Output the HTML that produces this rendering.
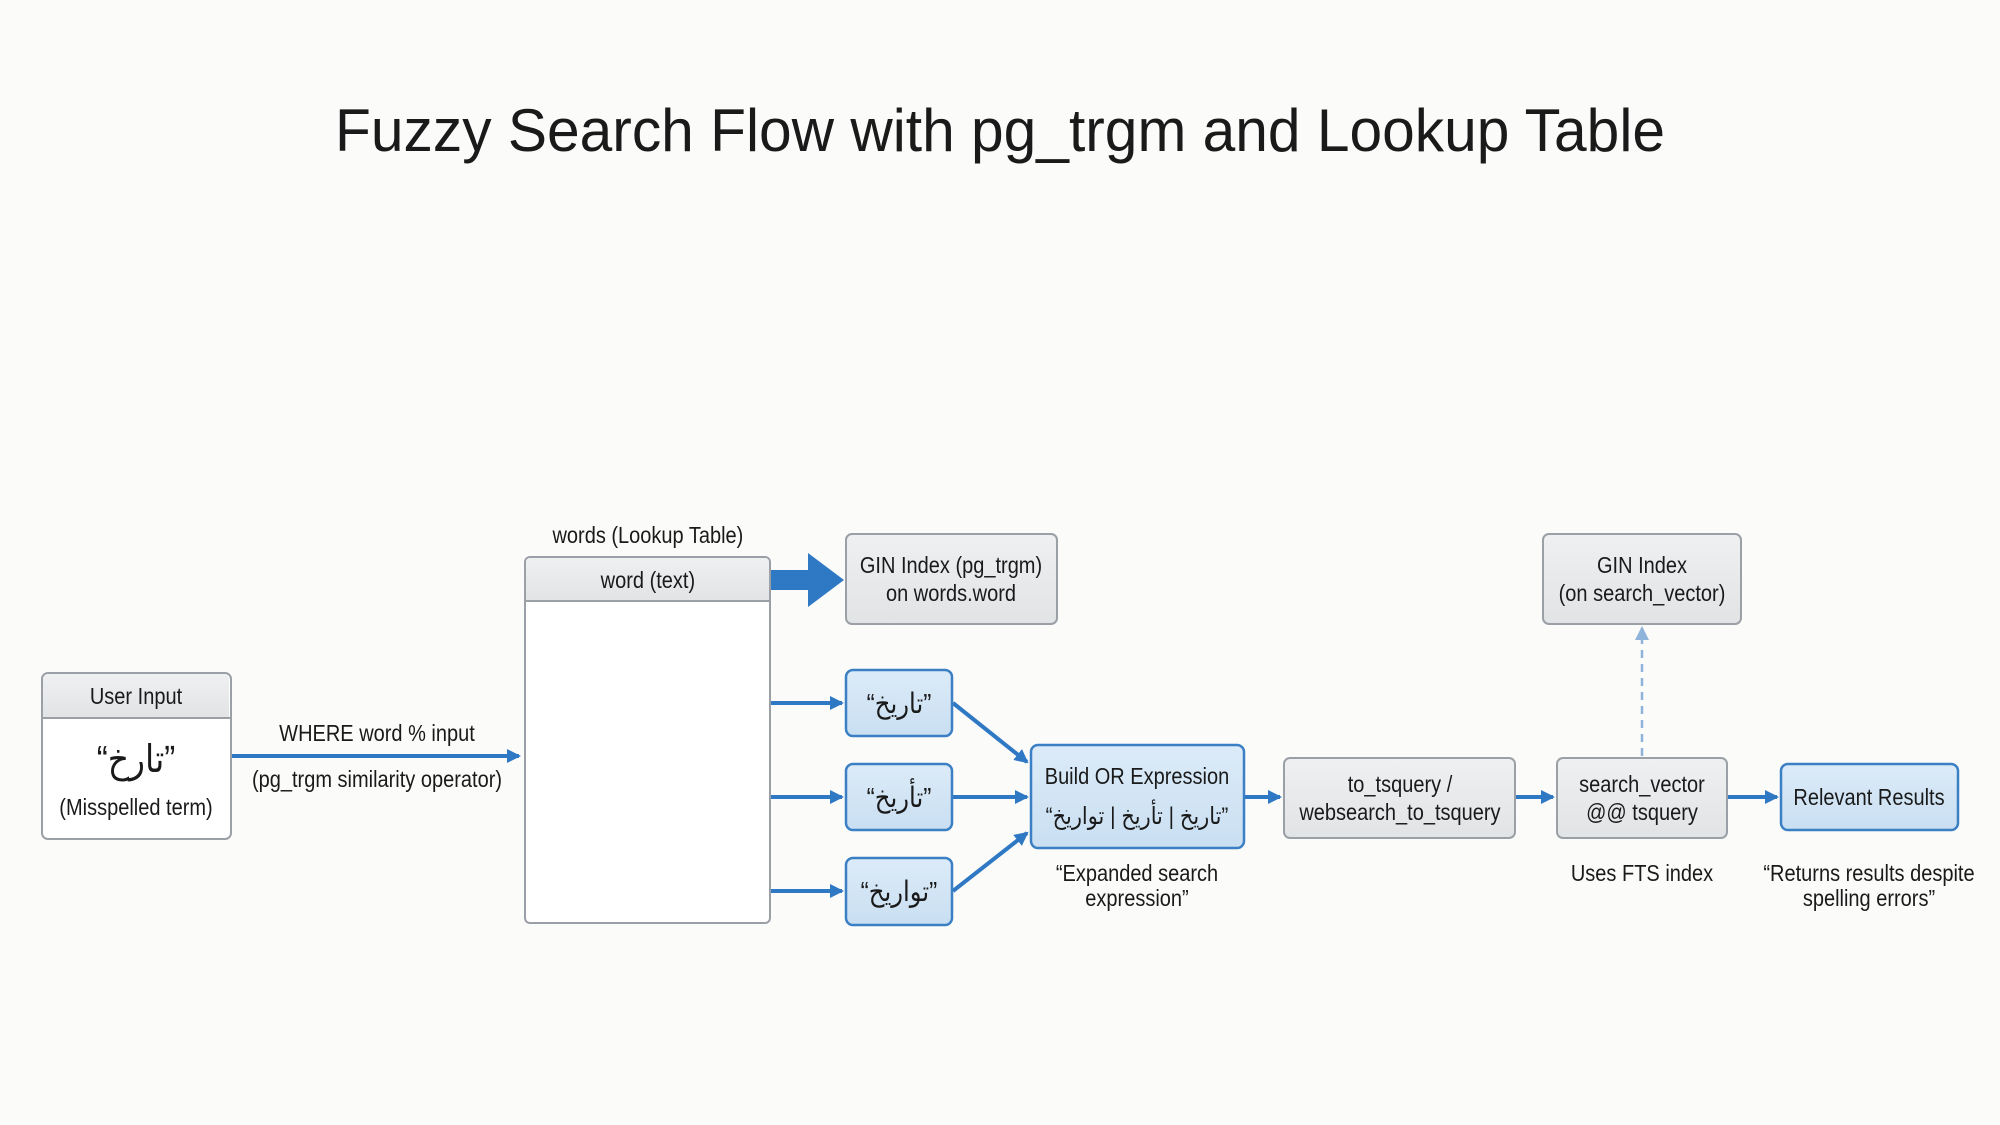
<!DOCTYPE html>
<html><head><meta charset="utf-8"><style>
html,body{margin:0;padding:0;background:#fbfbfa;}
svg{display:block;}
text{font-family:"Liberation Sans","DejaVu Sans",sans-serif;fill:#1a1a1a;}
g.lbl text{transform-box:fill-box;transform-origin:center;transform:scaleX(0.87);}
</style></head><body>
<svg width="2000" height="1125" viewBox="0 0 2000 1125" xmlns="http://www.w3.org/2000/svg">
<defs>
<linearGradient id="g" x1="0" y1="0" x2="0" y2="1"><stop offset="0" stop-color="#eff0f1"/><stop offset="1" stop-color="#e2e3e5"/></linearGradient>
<linearGradient id="b" x1="0" y1="0" x2="0" y2="1"><stop offset="0" stop-color="#dcebf8"/><stop offset="1" stop-color="#c9dff2"/></linearGradient>
<marker id="ah2" markerWidth="14" markerHeight="14" refX="12" refY="7" orient="auto" markerUnits="userSpaceOnUse"><path d="M0,0 L14,7 L0,14 z" fill="#2f78c4"/></marker>
<marker id="ahd" markerWidth="14" markerHeight="14" refX="12" refY="7" orient="auto" markerUnits="userSpaceOnUse"><path d="M0,0 L14,7 L0,14 z" fill="#8fb3da"/></marker>
</defs>
<rect width="2000" height="1125" fill="#fbfbfa"/>
<text x="1000" y="151" font-size="60" text-anchor="middle" textLength="1330" lengthAdjust="spacingAndGlyphs">Fuzzy Search Flow with pg_trgm and Lookup Table</text>

<g font-size="23" text-anchor="middle">
<rect x="42" y="673" width="189" height="166" rx="6" fill="#fff" stroke="#9aa0a6" stroke-width="2"/>
<path d="M43,718 V679 a5,5 0 0 1 5,-5 H224 a5,5 0 0 1 5,5 V718 z" fill="url(#g)"/>
<line x1="42" y1="718" x2="231" y2="718" stroke="#9aa0a6" stroke-width="2"/>
<line x1="232" y1="756" x2="519" y2="756" stroke="#2f78c4" stroke-width="4" marker-end="url(#ah2)"/>
<rect x="525" y="557" width="245" height="366" rx="5" fill="#fff" stroke="#9aa0a6" stroke-width="2"/>
<path d="M526,601 V562 a4,4 0 0 1 4,-4 H765 a4,4 0 0 1 4,4 V601 z" fill="url(#g)"/>
<line x1="525" y1="601" x2="770" y2="601" stroke="#9aa0a6" stroke-width="2"/>
<path d="M771,570 H808 V553 L844,580 L808,607 V590 H771 z" fill="#2f78c4"/>
<rect x="846" y="534" width="211" height="90" rx="6" fill="url(#g)" stroke="#9aa0a6" stroke-width="2"/>
<g stroke="#2f78c4" stroke-width="4">
<line x1="771" y1="703" x2="842" y2="703" marker-end="url(#ah2)"/>
<line x1="771" y1="797" x2="842" y2="797" marker-end="url(#ah2)"/>
<line x1="771" y1="891" x2="842" y2="891" marker-end="url(#ah2)"/>
<line x1="953" y1="703" x2="1027" y2="762" marker-end="url(#ah2)"/>
<line x1="953" y1="797" x2="1027" y2="797" marker-end="url(#ah2)"/>
<line x1="953" y1="891" x2="1027" y2="833" marker-end="url(#ah2)"/>
</g>
<rect x="846" y="670" width="106" height="66" rx="7" fill="url(#b)" stroke="#3b7fc4" stroke-width="2.5"/>
<rect x="846" y="764" width="106" height="66" rx="7" fill="url(#b)" stroke="#3b7fc4" stroke-width="2.5"/>
<rect x="846" y="858" width="106" height="67" rx="7" fill="url(#b)" stroke="#3b7fc4" stroke-width="2.5"/>
<rect x="1031" y="745" width="213" height="103" rx="7" fill="url(#b)" stroke="#3b7fc4" stroke-width="2.5"/>
<line x1="1245" y1="797" x2="1280" y2="797" stroke="#2f78c4" stroke-width="4" marker-end="url(#ah2)"/>
<rect x="1284" y="758" width="231" height="80" rx="6" fill="url(#g)" stroke="#9aa0a6" stroke-width="2"/>
<line x1="1516" y1="797" x2="1553" y2="797" stroke="#2f78c4" stroke-width="4" marker-end="url(#ah2)"/>
<rect x="1557" y="758" width="170" height="80" rx="6" fill="url(#g)" stroke="#9aa0a6" stroke-width="2"/>
<line x1="1642" y1="756" x2="1642" y2="628" stroke="#8fb3da" stroke-width="2.5" stroke-dasharray="8,6" marker-end="url(#ahd)"/>
<rect x="1543" y="534" width="198" height="90" rx="6" fill="url(#g)" stroke="#9aa0a6" stroke-width="2"/>
<line x1="1728" y1="797" x2="1777" y2="797" stroke="#2f78c4" stroke-width="4" marker-end="url(#ah2)"/>
<rect x="1781" y="764" width="177" height="66" rx="7" fill="url(#b)" stroke="#3b7fc4" stroke-width="2.5"/>

<g class="lbl">
<text x="136" y="704">User Input</text>
<text x="136" y="772" font-size="38">“تارخ”</text>
<text x="136" y="815">(Misspelled term)</text>
<text x="377" y="741">WHERE word % input</text>
<text x="377" y="787">(pg_trgm similarity operator)</text>
<text x="648" y="543">words (Lookup Table)</text>
<text x="648" y="588">word (text)</text>
<text x="951" y="573">GIN Index (pg_trgm)</text>
<text x="951" y="601">on words.word</text>
<text x="899" y="713" font-size="28">“تاريخ”</text>
<text x="899" y="807" font-size="28">“تأريخ”</text>
<text x="899" y="901" font-size="28">“تواريخ”</text>
<text x="1137" y="784">Build OR Expression</text>
<text x="1137" y="824" font-size="24">“تاريخ | تأريخ | تواريخ”</text>
<text x="1137" y="881">“Expanded search</text>
<text x="1137" y="906">expression”</text>
<text x="1400" y="792">to_tsquery /</text>
<text x="1400" y="820">websearch_to_tsquery</text>
<text x="1642" y="792">search_vector</text>
<text x="1642" y="820">@@ tsquery</text>
<text x="1642" y="881">Uses FTS index</text>
<text x="1642" y="573">GIN Index</text>
<text x="1642" y="601">(on search_vector)</text>
<text x="1869" y="805">Relevant Results</text>
<text x="1869" y="881">“Returns results despite</text>
<text x="1869" y="906">spelling errors”</text>
</g>
</g>
</svg>
</body></html>
